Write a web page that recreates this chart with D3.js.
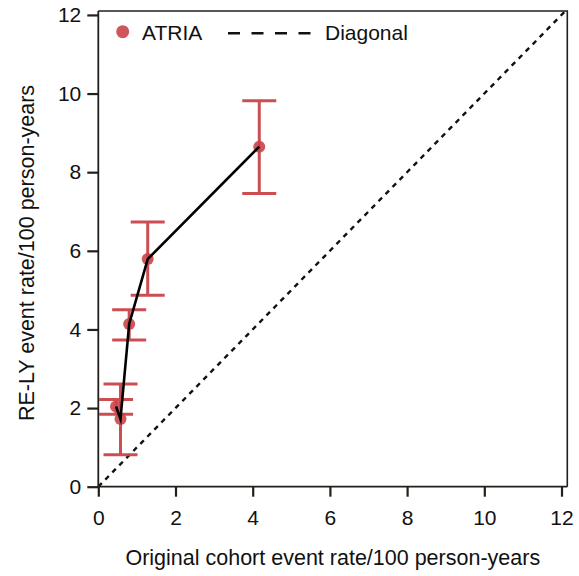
<!DOCTYPE html>
<html><head><meta charset="utf-8">
<script src="https://cdn.jsdelivr.net/npm/d3@7"></script>
<style>body{margin:0;background:#fff}svg{display:block}text{font-family:"Liberation Sans",Arial,sans-serif}</style>
</head><body><svg id="c" width="579" height="576"></svg>
<script>
const xVals = [0.46, 0.575, 0.80, 1.28, 4.17];
const yVals = [2.04, 1.72, 4.14, 5.79, 8.65];
const yLow  = [1.84, 0.81, 3.73, 4.87, 7.46];
const yHigh = [2.22, 2.61, 4.50, 6.73, 9.82];
const tickVals = [0, 2, 4, 6, 8, 10, 12];
const seriesName = "ATRIA";
const diagName = "Diagonal";
const xTitle = "Original cohort event rate/100 person-years";
const yTitle = "RE-LY event rate/100 person-years";

const svg = d3.select("#c");
const L = 98.3, R = 567.3, T = 11, B = 486.7;
const x = d3.scaleLinear().domain([0, 12.15]).range([L, R]);
const y = d3.scaleLinear().domain([0, 12.1]).range([B, T]);
const red = "#c9454a", axisCol = "#231f1a";

// frame top/right
svg.append("path").attr("d", `M${L},${T}H${R}V${B}`).attr("fill","none").attr("stroke",axisCol).attr("stroke-width",1.6);

// diagonal
const dmax = Math.min(12.15, 12.1);
svg.append("line").attr("x1",x(0)).attr("y1",y(0)).attr("x2",x(dmax)).attr("y2",y(dmax))
  .attr("stroke","#111").attr("stroke-width",2.4).attr("stroke-dasharray","5,5");

// axes
const xAxis = d3.axisBottom(x).tickValues(tickVals).tickSize(10).tickPadding(13).tickFormat(d3.format("d"));
const yAxis = d3.axisLeft(y).tickValues(tickVals).tickSize(11).tickPadding(6).tickFormat(d3.format("d"));
const gx = svg.append("g").attr("transform",`translate(0,${B})`).call(xAxis);
const gy = svg.append("g").attr("transform",`translate(${L},0)`).call(yAxis);
[gx, gy].forEach(g => {
  g.select(".domain").attr("stroke",axisCol).attr("stroke-width",1.8);
  g.selectAll(".tick line").attr("stroke",axisCol).attr("stroke-width",2.2);
  g.selectAll(".tick text").attr("fill","#111").attr("font-size",21).attr("font-family","Liberation Sans, Arial, sans-serif");
});
gx.select(".domain").attr("d",`M${L},0H${R}`);
gy.select(".domain").attr("d",`M0,${B}V${T}`);

const data = xVals.map((v,i)=>({x:v,y:yVals[i],lo:yLow[i],hi:yHigh[i]}));

// error bars
const capW = 17;
const eb = svg.append("g").attr("stroke",red).attr("stroke-width",3).attr("fill","none").attr("opacity",0.95);
data.forEach(d=>{
  eb.append("line").attr("x1",x(d.x)).attr("x2",x(d.x)).attr("y1",y(d.lo)).attr("y2",y(d.hi));
  eb.append("line").attr("x1",x(d.x)-capW).attr("x2",x(d.x)+capW).attr("y1",y(d.lo)).attr("y2",y(d.lo));
  eb.append("line").attr("x1",x(d.x)-capW).attr("x2",x(d.x)+capW).attr("y1",y(d.hi)).attr("y2",y(d.hi));
});

// points
svg.append("g").selectAll("circle").data(data).join("circle")
  .attr("cx",d=>x(d.x)).attr("cy",d=>y(d.y)).attr("r",6).attr("fill",red).attr("opacity",0.9);

// connecting line
svg.append("path").datum(data)
  .attr("d", d3.line().x(d=>x(d.x)).y(d=>y(d.y)))
  .attr("fill","none").attr("stroke","#000").attr("stroke-width",2.6).attr("stroke-linejoin","miter").attr("stroke-miterlimit",10);

// legend
const lg = svg.append("g");
lg.append("circle").attr("cx",122.7).attr("cy",31.7).attr("r",6.5).attr("fill",red).attr("opacity",0.9);
lg.append("text").attr("x",142).attr("y",40).attr("font-size",21).attr("fill","#111").text(seriesName);
lg.append("line").attr("x1",228).attr("x2",311).attr("y1",33.3).attr("y2",33.3).attr("stroke","#111").attr("stroke-width",2.4).attr("stroke-dasharray","12,11.5");
lg.append("text").attr("x",325).attr("y",40).attr("font-size",21).attr("fill","#111").text(diagName);

// titles
svg.append("text").attr("x",(L+R)/2).attr("y",565).attr("text-anchor","middle").attr("font-size",21.5).attr("fill","#111").text(xTitle);
svg.append("text").attr("transform",`translate(34,253) rotate(-90)`).attr("text-anchor","middle").attr("font-size",21.5).attr("fill","#111").text(yTitle);
</script></body></html>
